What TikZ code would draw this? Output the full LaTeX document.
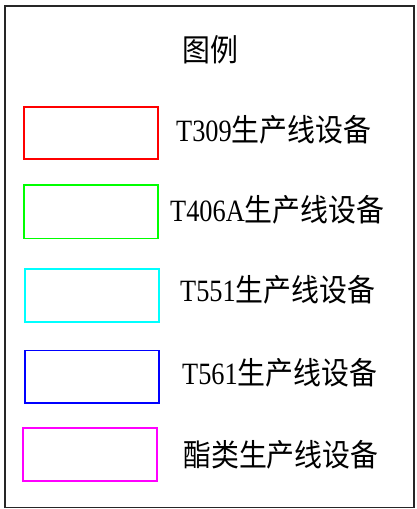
\documentclass[tikz,border=0pt]{standalone}
\usepackage{fontspec}
\newfontfamily\cjk[FakeStretch=0.9]{Noto Sans CJK SC}
\newfontfamily\lat[FakeStretch=0.85]{Liberation Serif}
\definecolor{lgreen}{RGB}{0,255,0}
\definecolor{lcyan}{RGB}{0,255,255}
\definecolor{lmagenta}{RGB}{255,0,255}
\definecolor{lred}{RGB}{255,0,0}
\definecolor{lblue}{RGB}{0,0,255}
\begin{document}
\begin{tikzpicture}[x=1pt,y=-1pt]
\tikzset{
  legbox/.style={line width=1.6pt},
  legtext/.style={anchor=west, inner sep=0pt, font=\fontsize{31}{34}\selectfont}
}
\useasboundingbox (0,0) rectangle (417,509);
\draw[line width=1.6pt, black!85] (5,6) rectangle (414,507.5);
\node[legtext, anchor=center] (title) at (210,50) {\cjk 图例};
\draw[legbox, lred] (24,107) rectangle (158,159);
\draw[legbox, lgreen] (24,185) rectangle (158,238.5);
\draw[legbox, lcyan] (25,269) rectangle (159,322);
\draw[legbox, lblue] (25,350.5) rectangle (159,403);
\draw[legbox, lmagenta] (23,428) rectangle (157,481);
\node[legtext] (t1) at (176,130) {\lat T309\cjk 生产线设备};
\node[legtext] (t2) at (170,210) {\lat T406A\cjk 生产线设备};
\node[legtext] (t3) at (180,290) {\lat T551\cjk 生产线设备};
\node[legtext] (t4) at (182,373) {\lat T561\cjk 生产线设备};
\node[legtext] (t5) at (183,455) {\cjk 酯类生产线设备};
\end{tikzpicture}
\end{document}
